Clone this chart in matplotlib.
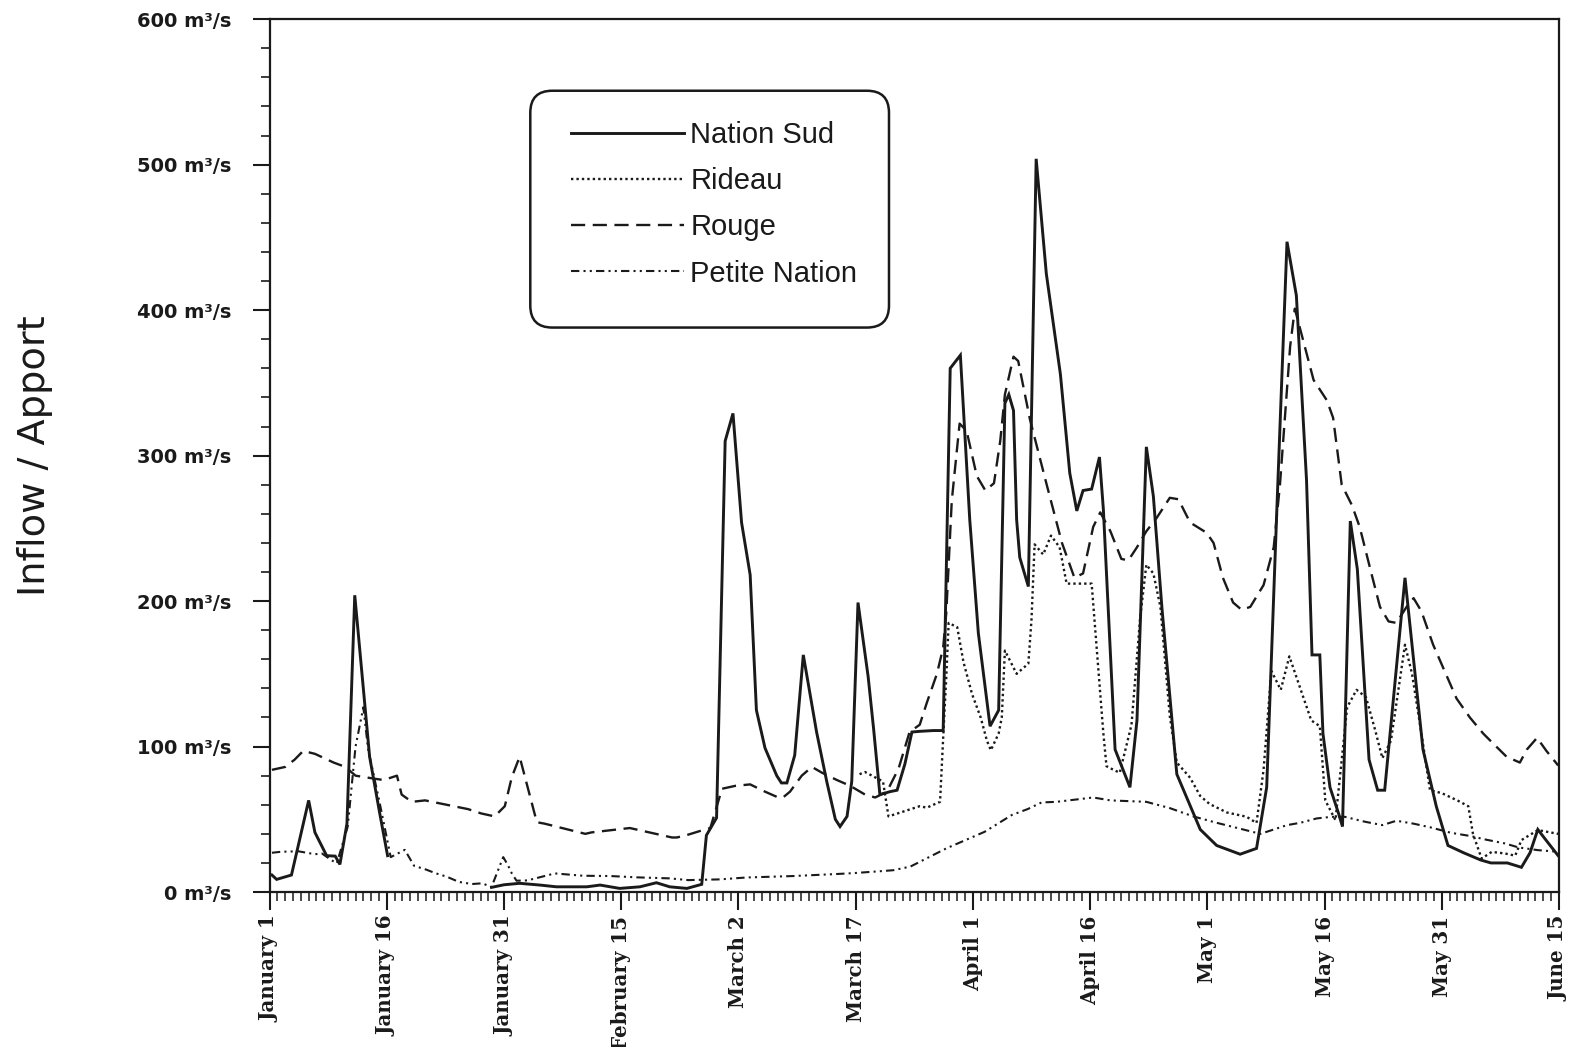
import matplotlib
matplotlib.use("Agg")
import matplotlib.pyplot as plt
from matplotlib.ticker import MultipleLocator, FixedLocator
from matplotlib.patches import FancyBboxPatch
from matplotlib.transforms import IdentityTransform

NAN = float("nan")

# Day of year (0 = January 1) and inflow in m3/s for each river
NATION_SUD = [
    (0.3, 11.7), (0.9, 8.7), (2.8, 11.7), (5.0, 63), (5.8, 41), (7.3, 25), (8.4, 24.7),
    (9.0, 19), (9.9, 47), (10.9, 204), (12.8, 93), (14.1, 54), (15.1, 25), (20.0, NAN),
    (28.4, 3.2), (30.0, 5), (32.0, 6), (34.6, 4.8), (36.7, 3.6), (40.6, 3.6), (42.3, 4.8),
    (44.8, 2.5), (47.4, 3.6), (49.5, 6.4), (51.2, 3.6), (53.4, 2.5), (55.3, 5.3), (55.9, 39),
    (57.2, 51), (58.3, 310), (59.3, 329), (60.4, 254), (61.5, 218), (62.3, 125), (63.4, 99),
    (64.9, 80), (65.5, 75), (66.2, 75), (67.2, 94), (68.3, 163), (70.0, 110), (71.3, 76),
    (72.4, 50), (73.0, 45), (73.9, 52), (74.5, 76), (75.3, 199), (76.6, 148), (77.3, 112),
    (78.1, 67), (79.4, 69), (80.3, 70), (81.3, 88), (82.2, 110), (83.3, 110.5), (84.9, 111),
    (86.2, 111), (87.1, 360), (88.4, 369), (89.6, 256), (90.7, 178), (92.2, 114), (93.3, 125),
    (94.1, 336), (94.6, 342), (95.2, 331), (95.6, 256), (96.0, 230), (97.1, 210), (98.1, 504),
    (99.4, 425), (101.2, 356), (102.4, 288), (103.3, 262), (104.1, 276), (105.2, 277),
    (106.2, 299), (106.7, 263), (108.2, 98), (110.1, 72), (111.0, 118), (112.2, 306),
    (113.1, 272), (114.2, 195), (116.1, 81), (119.1, 43), (121.2, 32), (124.2, 26), (126.3, 30),
    (127.6, 72), (128.9, 263), (130.2, 447), (131.4, 410), (132.7, 283), (133.4, 163),
    (134.4, 163), (134.8, 109), (135.7, 72), (136.8, 54), (137.3, 45), (138.3, 255),
    (139.2, 222), (140.7, 91), (141.8, 70), (142.7, 70), (145.3, 216), (147.6, 98), (149.3, 59),
    (150.8, 32), (152.8, 27), (155.0, 22), (156.3, 20), (158.4, 20), (160.2, 17), (161.3, 27),
    (162.3, 43), (163.3, 36), (164.9, 25),
]

RIDEAU = [
    (75.5, 81), (76.2, 82.5), (78.5, 76), (79.2, 52), (83.2, 59), (84.1, 58), (85.8, 62),
    (86.3, 117), (86.6, 148), (86.9, 185), (88.0, 182), (88.8, 158), (89.9, 136), (91.0, 120),
    (91.8, 104), (92.3, 97.5), (93.3, 109), (93.7, 120), (94.1, 166), (95.6, 150), (97.1, 157),
    (97.5, 187), (97.9, 239), (99.0, 232), (100.0, 245), (101.1, 237), (102.0, 212),
    (105.2, 212), (106.7, 109), (107.1, 86.5), (108.0, 84), (108.8, 82), (110.3, 115),
    (111.4, 188), (112.2, 225), (113.1, 219), (114.0, 196), (115.2, 121), (116.1, 89),
    (117.8, 78.6), (119.1, 66), (120.3, 60.5), (122.5, 54.7), (125.0, 51.8), (126.3, 47.5),
    (127.2, 84), (128.2, 152), (129.4, 139), (130.5, 162), (131.9, 140), (133.3, 118),
    (134.4, 114), (135.1, 63), (136.4, 49.4), (137.9, 127), (139.1, 139), (140.3, 134),
    (141.5, 111), (142.4, 92), (143.5, 104), (145.3, 170), (146.2, 150), (147.4, 109),
    (148.5, 70), (150.0, 68), (152.1, 62.7), (153.4, 59), (154.0, 40), (155.1, 23),
    (156.4, 27.6), (158.1, 26.5), (159.4, 25), (160.2, 35.7), (162.3, 42.6), (164.9, 40),
]

ROUGE = [
    (0.3, 84), (2.0, 86), (3.2, 91), (4.3, 97), (5.8, 95), (8.2, 89), (9.7, 86), (11.0, 80),
    (13.3, 78), (14.6, 77), (16.3, 80), (16.9, 67), (18.2, 62), (19.9, 63), (25.4, 57),
    (27.1, 54), (28.8, 52), (30.1, 59), (31.0, 79), (32.0, 93), (34.2, 48), (35.2, 47),
    (40.4, 40), (41.2, 41), (46.1, 44), (51.5, 37.5), (52.1, 37.5), (53.3, 39), (55.1, 42),
    (56.4, 44), (57.9, 71), (59.6, 73), (61.5, 74), (63.4, 69), (65.1, 65), (65.7, 65),
    (66.6, 69), (68.1, 80), (69.4, 86), (70.7, 82), (72.6, 77), (74.3, 73), (76.2, 67),
    (77.5, 65), (79.0, 69), (80.5, 85), (81.9, 110), (83.2, 115), (84.1, 130), (85.4, 150),
    (86.2, 168), (86.6, 192), (87.3, 269), (88.3, 322), (89.2, 317), (90.5, 286), (91.6, 276),
    (92.7, 281), (93.5, 310), (94.1, 342), (95.2, 368), (95.8, 365), (97.3, 325), (99.4, 281),
    (101.4, 240), (103.0, 216), (104.1, 219), (105.4, 251), (106.3, 261), (107.6, 248),
    (109.0, 229), (109.9, 228), (111.0, 237), (112.2, 248), (113.5, 257), (115.2, 271),
    (116.3, 270), (117.8, 254), (119.9, 247), (120.8, 240), (122.0, 216), (123.3, 199),
    (124.4, 194), (125.5, 196), (127.2, 211), (128.5, 237), (129.3, 280), (130.6, 375),
    (131.2, 401), (133.6, 352), (135.3, 338), (136.1, 326), (137.2, 280), (138.5, 266),
    (139.5, 251), (141.0, 219), (142.1, 196), (143.2, 186), (144.2, 185), (145.5, 196),
    (146.4, 202), (147.4, 193), (148.9, 170), (151.9, 133), (153.6, 120), (155.3, 109),
    (156.6, 102), (158.3, 93), (160.0, 89), (160.9, 98), (162.2, 106), (163.4, 97), (164.9, 87),
]

PETITE_NATION = [
    (0.3, 27), (1.5, 27.7), (3.7, 28), (5.8, 26), (6.7, 26.5), (7.9, 22), (8.6, 19.7),
    (10.0, 45), (11.0, 100), (12.0, 127), (12.6, 98.5), (14.1, 61), (15.5, 24), (17.3, 29),
    (18.5, 18), (20.0, 15.5), (21.2, 13), (22.7, 10.5), (24.2, 7), (25.9, 5.5), (27.2, 6),
    (28.4, 3.5), (29.9, 24), (30.5, 18.5), (31.0, 12.8), (31.6, 7.8), (33.0, 8), (36.5, 12.8),
    (40.1, 11.2), (43.6, 11), (47.0, 10.1), (51.2, 9.4), (53.6, 8.2), (57.6, 8.7), (61.0, 10),
    (67.0, 11), (72.6, 12.4), (74.7, 13), (78.1, 14.3), (79.8, 15), (82.0, 17.5), (86.6, 30),
    (91.5, 41.4), (95.0, 53), (97.0, 57), (98.8, 61.6), (100.7, 62), (105.4, 65), (107.6, 63),
    (112.2, 62), (115.2, 57.7), (118.2, 52), (121.2, 47.6), (124.6, 43), (126.8, 40),
    (130.2, 46), (131.9, 47.6), (134.0, 50.6), (135.9, 51.7), (137.6, 51.7), (140.2, 48.3),
    (142.4, 46), (144.2, 49), (146.4, 47), (148.6, 44.4), (151.2, 40.7), (153.8, 38.4),
    (155.5, 36.2), (158.1, 33.4), (159.8, 30.7), (162.3, 28.8), (164.9, 27.7),
]

SERIES_NAMES = ["Nation Sud", "Rideau", "Rouge", "Petite Nation"]

DATE_TICKS = [0, 15, 30, 45, 60, 75, 90, 105, 120, 135, 150, 165]
DATE_LABELS = ["January 1", "January 16", "January 31", "February 15", "March 2",
               "March 17", "April 1", "April 16", "May 1", "May 16", "May 31", "June 15"]
FLOW_TICKS = [0, 100, 200, 300, 400, 500, 600]
FLOW_LABELS = [f"{v} m³/s" for v in FLOW_TICKS]

STYLES = [
    dict(linestyle="-", linewidth=2.1),
    dict(linestyle=(0, (1.0, 1.3)), linewidth=1.7),
    dict(linestyle=(0, (6.0, 3.2)), linewidth=1.7),
    dict(linestyle=(0, (4.0, 2.0, 1.0, 2.0, 1.0, 2.0)), linewidth=1.5),
]

fig = plt.figure(figsize=(15.83, 10.47), dpi=100)
fig.patch.set_facecolor("white")
ax = fig.add_axes([0.1703, 0.148, 0.9848 - 0.1703, 0.9817 - 0.148])

ink = "#1a1a1a"
handles = []
for name, data, style in zip(SERIES_NAMES, [NATION_SUD, RIDEAU, ROUGE, PETITE_NATION], STYLES):
    days = [d for d, _ in data]
    vals = [v for _, v in data]
    (ln,) = ax.plot(days, vals, color=ink, solid_joinstyle="miter", dash_capstyle="butt",
                    zorder=2, **style)
    handles.append(ln)

ax.set_xlim(0, 165)
ax.set_ylim(0, 600)

# axes frame
for side in ["left", "right", "top", "bottom"]:
    ax.spines[side].set_linewidth(1.6)
    ax.spines[side].set_color(ink)

ax.xaxis.set_major_locator(FixedLocator(DATE_TICKS))
ax.xaxis.set_minor_locator(MultipleLocator(1))
ax.yaxis.set_major_locator(FixedLocator(FLOW_TICKS))
ax.yaxis.set_minor_locator(MultipleLocator(20))
ax.set_xticklabels(DATE_LABELS, rotation=90, fontfamily="DejaVu Serif",
                   fontweight="bold", fontsize=14.3, color=ink)
ax.set_yticklabels(FLOW_LABELS, fontfamily="DejaVu Sans", fontweight="bold",
                   fontsize=14, color=ink)
ax.tick_params(axis="x", which="major", direction="out", length=13, width=1.5,
               pad=4, colors=ink)
ax.tick_params(axis="x", which="minor", direction="out", length=6.5, width=1.1, colors=ink)
ax.tick_params(axis="y", which="major", direction="out", length=12.5, width=1.5,
               pad=15, colors=ink)
ax.tick_params(axis="y", which="minor", direction="out", length=6.5, width=1.2, colors=ink)
ax.tick_params(top=False, right=False, which="both")

fig.text(0.0223, 0.565, "Inflow / Apport", rotation=90, ha="center", va="center",
         fontfamily="DejaVu Sans", fontsize=27.5, color=ink)

# legend: rounded frame plus entries
box_ax = (0.2022, 0.6467, 0.4804 - 0.2022, 0.918 - 0.6467)
fig.canvas.draw()
(x0, y0) = ax.transAxes.transform((box_ax[0], box_ax[1]))
(x1, y1) = ax.transAxes.transform((box_ax[0] + box_ax[2], box_ax[1] + box_ax[3]))
frame = FancyBboxPatch((x0, y0), x1 - x0, y1 - y0,
                       boxstyle="round,pad=0,rounding_size=22",
                       transform=IdentityTransform(), facecolor="white",
                       edgecolor=ink, linewidth=1.8, zorder=4, clip_on=False)
ax.add_artist(frame)

leg = ax.legend(handles, SERIES_NAMES, loc="upper left",
                bbox_to_anchor=(0.2335, 0.883), borderaxespad=0, borderpad=0,
                frameon=False, handlelength=3.9, handletextpad=0.2, labelspacing=0.62,
                prop=dict(family="Liberation Sans", size=21))
leg.set_zorder(5)
for t in leg.get_texts():
    t.set_color(ink)

fig.savefig("out.png", dpi=100, facecolor="white")
